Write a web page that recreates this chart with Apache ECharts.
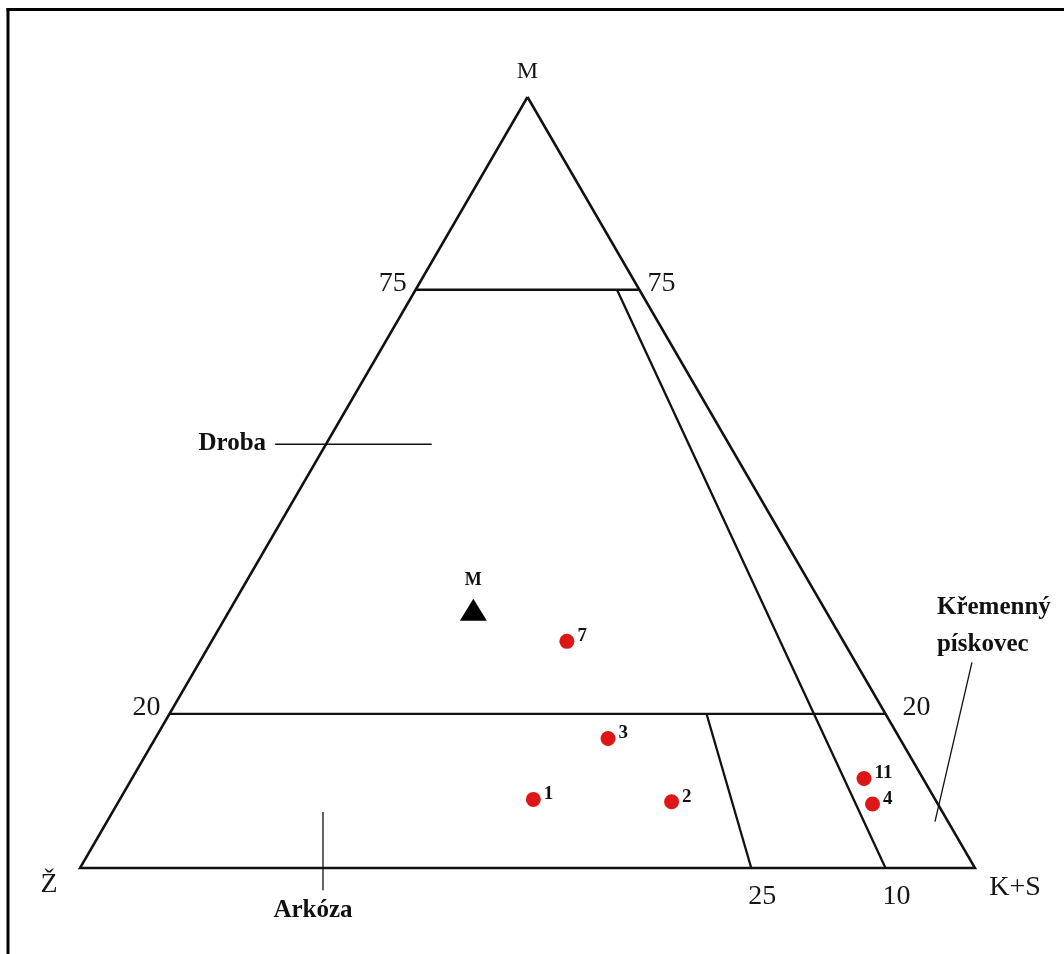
<!DOCTYPE html>
<html>
<head>
<meta charset="utf-8">
<title>Ternární diagram M – Ž – K+S</title>
<script src="https://cdn.jsdelivr.net/npm/echarts@6/dist/echarts.min.js"></script>
<style>
  html, body { margin: 0; padding: 0; background: #fff; }
  #chart { width: 1064px; height: 954px; }
</style>
</head>
<body>
<div id="chart"></div>
<script>
// ---- Data: compositions in %, [M, Ž, K+S] ----
const sampleNames = ['7', '3', '1', '2', '11', '4'];
const sampleM  = [29.4, 16.8,  8.9,  8.6, 11.6,  8.3];
const sampleZ  = [30.9, 32.6, 44.9, 29.6,  6.6,  7.3];
const sampleKS = [39.7, 50.6, 46.2, 61.8, 81.8, 84.4];

// average composition, drawn as a black triangle
const meanNames = ['M'];
const meanM  = [33.5];
const meanZ  = [39.3];
const meanKS = [27.2];

// field boundaries
const matrixLimits = [75, 20];          // lines of constant M (%)
const feldsparRatios = [10, 25];        // Ž / (Ž + K+S) in %, running down to the base
const ratioStartM = [75, 20];           // M level each ratio line starts from

// texts
const vertexNames = ['M', 'Ž', 'K+S'];
const fieldNames = ['Droba', 'Arkóza', 'Křemenný\npískovec'];

// ---- Layout of the triangle on the page (px) ----
const TRI = { left: 80, right: 975, top: 97, base: 868 };
const W = 1064, Hpx = 954;
const H = 100 * Math.sqrt(3) / 2;               // triangle height in plane units
const sx = (TRI.right - TRI.left) / 100;
const sy = (TRI.base - TRI.top) / H;

// ternary [M, Ž, K+S] -> plane [x, y]  (Ž at left, K+S at right, M on top)
function tern(m, z, k) {
  const t = m + z + k;
  m = 100 * m / t; k = 100 * k / t;
  return [k + m / 2, m * H / 100];
}

const FONT = "'Liberation Serif', 'Times New Roman', serif";
const INK = '#111111';

function segment(points, width) {
  return {
    type: 'line', data: points, symbol: 'none', silent: true, clip: false,
    lineStyle: { color: INK, width: width, opacity: 1, cap: 'butt', join: 'miter' },
    z: 2
  };
}

const series = [];

// outline
series.push(segment([tern(100,0,0), tern(0,100,0), tern(0,0,100), tern(100,0,0)], 2.5));

// constant-M boundaries
matrixLimits.forEach(L => {
  series.push(segment([tern(L, 100 - L, 0), tern(L, 0, 100 - L)], 2.3));
});

// constant Ž/(Ž+K+S) boundaries
feldsparRatios.forEach((r, i) => {
  const s = ratioStartM[i];
  series.push(segment([
    tern(s, (100 - s) * r / 100, (100 - s) * (1 - r / 100)),
    tern(0, r, 100 - r)
  ], 2.3));
});

// leader lines of the field names (plane units)
const droLeader = [[21.8, 47.6], [39.3, 47.6]];
const arkLeader = [[27.15, 6.3], [27.15, -2.5]];
const kreLeader = [[99.66, 23.1], [95.53, 5.2]];
[droLeader, arkLeader, kreLeader].forEach(p => series.push(segment(p, 1.3)));

// samples
series.push({
  type: 'scatter', clip: false, z: 5,
  symbol: 'circle', symbolSize: 15,
  itemStyle: { color: '#dd1717', opacity: 1 },
  data: sampleNames.map((n, i) => ({ name: n, value: tern(sampleM[i], sampleZ[i], sampleKS[i]) })),
  label: {
    show: true, position: 'right', distance: 3, offset: [0, -5],
    formatter: p => p.name, opacity: 1,
    fontFamily: FONT, fontWeight: 'bold', fontSize: 19, color: INK
  }
});

// average composition
series.push({
  type: 'scatter', clip: false, z: 5,
  symbol: 'triangle', symbolSize: [27, 22],
  itemStyle: { color: '#000', opacity: 1 },
  data: meanNames.map((n, i) => ({ name: n, value: tern(meanM[i], meanZ[i], meanKS[i]) })),
  label: {
    show: true, position: 'top', distance: 9,
    formatter: p => p.name, opacity: 1,
    fontFamily: FONT, fontWeight: 'bold', fontSize: 18, color: INK
  }
});

// text placed around an anchor point
function textItem(value, text, offset, extra) {
  return {
    value: value,
    label: Object.assign({
      show: true, position: 'inside', offset: offset, opacity: 1,
      formatter: text, align: 'center', verticalAlign: 'middle'
    }, extra || {})
  };
}

const regular = { fontFamily: FONT, fontSize: 28, color: '#161616' };
const bold = { fontFamily: FONT, fontSize: 25, fontWeight: 'bold', color: INK };

const texts = [
  // vertices
  textItem(tern(100,0,0), vertexNames[0], [0, -25], { fontFamily: FONT, fontSize: 24, color: '#161616' }),
  textItem(tern(0,100,0), vertexNames[1], [-31, 17], regular),
  textItem(tern(0,0,100), vertexNames[2], [40, 20], regular),
  // boundary values
  textItem(tern(matrixLimits[0], 100 - matrixLimits[0], 0), String(matrixLimits[0]), [-23, -6], regular),
  textItem(tern(matrixLimits[0], 0, 100 - matrixLimits[0]), String(matrixLimits[0]), [22, -6], regular),
  textItem(tern(matrixLimits[1], 100 - matrixLimits[1], 0), String(matrixLimits[1]), [-23, -6], regular),
  textItem(tern(matrixLimits[1], 0, 100 - matrixLimits[1]), String(matrixLimits[1]), [31, -6], regular),
  textItem(tern(0, feldsparRatios[1], 100 - feldsparRatios[1]), String(feldsparRatios[1]), [11, 29], regular),
  textItem(tern(0, feldsparRatios[0], 100 - feldsparRatios[0]), String(feldsparRatios[0]), [11, 29], regular),
  // field names
  textItem(droLeader[0], fieldNames[0], [-9, -1], Object.assign({ align: 'right' }, bold)),
  textItem(arkLeader[1], fieldNames[1], [-10, 20], bold),
  textItem(kreLeader[0], fieldNames[2], [-35, -36], Object.assign({ align: 'left', lineHeight: 37 }, bold))
];

series.push({
  type: 'scatter', clip: false, silent: true, z: 6,
  symbolSize: 0, itemStyle: { color: 'transparent', opacity: 1 },
  data: texts
});

const chart = echarts.init(document.getElementById('chart'), null, { renderer: 'canvas' });
chart.setOption({
  animation: false,
  backgroundColor: '#fff',
  grid: { left: 0, top: 0, right: 0, bottom: 0 },
  xAxis: {
    type: 'value', min: -TRI.left / sx, max: (W - TRI.left) / sx,
    show: false, splitLine: { show: false }
  },
  yAxis: {
    type: 'value', min: -(Hpx - TRI.base) / sy, max: TRI.base / sy,
    show: false, splitLine: { show: false }
  },
  tooltip: { show: false },
  graphic: [
    { type: 'line', shape: { x1: 6.5, y1: 9.5, x2: W, y2: 9.5 }, style: { stroke: '#000', lineWidth: 3 }, silent: true },
    { type: 'line', shape: { x1: 8, y1: 8, x2: 8, y2: Hpx }, style: { stroke: '#000', lineWidth: 3 }, silent: true }
  ],
  series: series
});
</script>
</body>
</html>
